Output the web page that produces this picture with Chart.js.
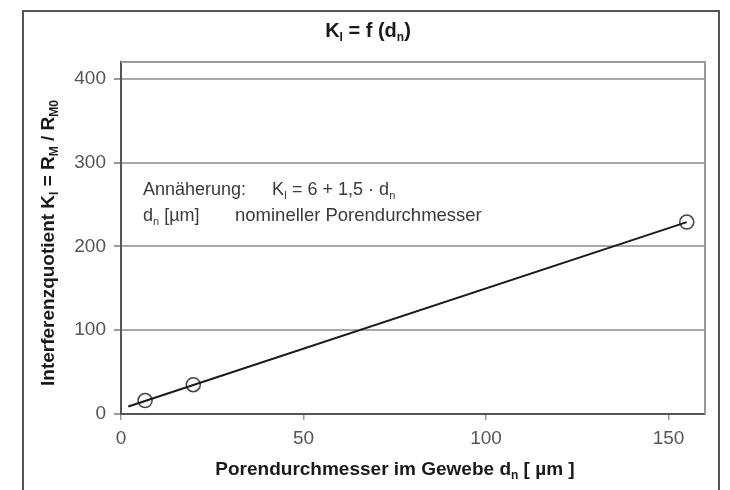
<!DOCTYPE html>
<html>
<head>
<meta charset="utf-8">
<script src="https://cdn.jsdelivr.net/npm/chart.js@4.4.0/dist/chart.umd.min.js"></script>
<style>
  html, body { margin: 0; padding: 0; background: #fff; }
  #wrap { width: 730px; height: 490px; }
</style>
</head>
<body>
<div id="wrap"><canvas id="chart" width="730" height="490"></canvas></div>
<script>
"use strict";

// Data
var poreDiameter = [6.6, 19.8, 155];          // d_n [µm]
var interferenceQuotient = [16, 35, 229];     // K_I
var trendX = [2, 155];
var trendY = [9, 229];
var xTicks = [0, 50, 100, 150];
var yTicks = [0, 100, 200, 300, 400];

var FONT = "'Liberation Sans', Arial, Helvetica, sans-serif";

// draw text made of runs, some of them subscript
function drawRuns(ctx, runs, x, y, size, bold, align) {
    var weight = bold ? "bold " : "";
    var subSize = Math.round(size * 0.62);
    var total = 0;
    runs.forEach(function (r) {
        ctx.font = weight + (r.sub ? subSize : size) + "px " + FONT;
        r.w = ctx.measureText(r.t).width;
        total += r.w;
    });
    var cx = x;
    if (align === "center") cx = x - total / 2;
    ctx.textBaseline = "alphabetic";
    ctx.textAlign = "left";
    runs.forEach(function (r) {
        ctx.font = weight + (r.sub ? subSize : size) + "px " + FONT;
        ctx.fillText(r.t, cx, r.sub ? y + size * 0.22 : y);
        cx += r.w;
    });
}

var decorations = {
    id: "decorations",
    beforeDraw: function (chart) {
        var ctx = chart.ctx;
        ctx.save();
        // outer frame
        ctx.strokeStyle = "#555";
        ctx.lineWidth = 2;
        ctx.strokeRect(23, 11, 696, 500);
        ctx.restore();
    },
    afterDraw: function (chart) {
        var ctx = chart.ctx;
        var a = chart.chartArea;
        ctx.save();
        // plot area top / right border
        ctx.strokeStyle = "#999";
        ctx.lineWidth = 2;
        ctx.beginPath();
        ctx.moveTo(a.left, a.top);
        ctx.lineTo(a.right, a.top);
        ctx.lineTo(a.right, a.bottom);
        ctx.stroke();

        ctx.fillStyle = "#1a1a1a";
        // title
        drawRuns(ctx, [{t: "K"}, {t: "I", sub: true}, {t: " = f (d"}, {t: "n", sub: true}, {t: ")"}],
            368, 37, 20, true, "center");

        // annotation
        ctx.fillStyle = "#3a3a3a";
        drawRuns(ctx, [{t: "Annäherung:"}], 143, 195, 18, false, "left");
        drawRuns(ctx, [{t: "K"}, {t: "I", sub: true}, {t: " = 6 + 1,5 · d"}, {t: "n", sub: true}],
            272, 195, 18, false, "left");
        drawRuns(ctx, [{t: "d"}, {t: "n", sub: true}, {t: " [µm]"}], 143, 221, 18, false, "left");
        drawRuns(ctx, [{t: "nomineller Porendurchmesser"}], 235, 221, 18.5, false, "left");

        // x axis title
        ctx.fillStyle = "#1a1a1a";
        drawRuns(ctx, [{t: "Porendurchmesser im Gewebe d"}, {t: "n", sub: true}, {t: " [ µm ]"}],
            395, 475, 19, true, "center");

        // y axis title
        ctx.translate(54, 243);
        ctx.rotate(-Math.PI / 2);
        drawRuns(ctx, [{t: "Interferenzquotient K"}, {t: "I", sub: true}, {t: " = R"}, {t: "M", sub: true},
            {t: " / R"}, {t: "M0", sub: true}], 0, 0, 19, true, "center");
        ctx.restore();
    }
};

var ctx = document.getElementById("chart").getContext("2d");
var myChart = new Chart(ctx, {
    type: "scatter",
    data: {
        datasets: [
            {
                label: "Annäherung",
                data: trendX.map(function (x, i) { return {x: x, y: trendY[i]}; }),
                showLine: true,
                borderColor: "#1a1a1a",
                borderWidth: 2,
                pointRadius: 0
            },
            {
                label: "Messwerte",
                data: poreDiameter.map(function (x, i) { return {x: x, y: interferenceQuotient[i]}; }),
                showLine: false,
                pointStyle: "circle",
                pointRadius: 7,
                backgroundColor: "rgba(0,0,0,0)",
                borderColor: "#444",
                borderWidth: 1.5
            }
        ]
    },
    options: {
        responsive: false,
        animation: false,
        layout: { padding: { top: 62, right: 25, left: 0, bottom: 0 } },
        plugins: {
            legend: { display: false },
            tooltip: { enabled: false }
        },
        scales: {
            x: {
                type: "linear",
                min: 0,
                max: 160,
                afterFit: function (s) { s.height = 76; },
                afterBuildTicks: function (s) {
                    s.ticks = xTicks.map(function (v) { return {value: v}; });
                },
                grid: {
                    drawOnChartArea: false,
                    drawTicks: true,
                    tickLength: 6,
                    tickColor: "#999",
                    lineWidth: 1.5
                },
                border: { color: "#555", width: 2 },
                ticks: {
                    color: "#555",
                    padding: 7,
                    font: { family: FONT, size: 19 }
                }
            },
            y: {
                type: "linear",
                min: 0,
                max: 420,
                afterFit: function (s) { s.width = 121; },
                afterBuildTicks: function (s) {
                    s.ticks = yTicks.map(function (v) { return {value: v}; });
                },
                grid: {
                    color: function (c) { return c.tick && c.tick.value === 0 ? "rgba(0,0,0,0)" : "#a8a8a8"; },
                    lineWidth: 2,
                    drawTicks: true,
                    tickLength: 7,
                    tickColor: "#999"
                },
                border: { color: "#555", width: 2 },
                ticks: {
                    color: "#555",
                    padding: 8,
                    font: { family: FONT, size: 19 }
                }
            }
        }
    },
    plugins: [decorations]
});
</script>
</body>
</html>
